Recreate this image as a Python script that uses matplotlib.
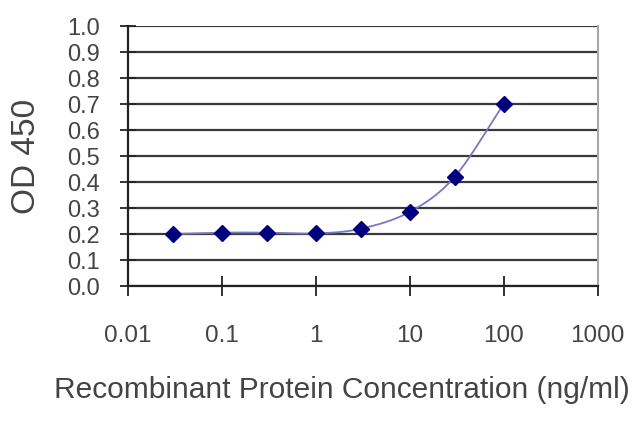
import numpy as np
import matplotlib
matplotlib.use('Agg')
import matplotlib.pyplot as plt

# concentration (ng/ml) and OD 450 readings
concentration = [0.03, 0.1, 0.3, 1, 3, 10, 30, 100]
od450 = [0.200, 0.205, 0.205, 0.202, 0.220, 0.285, 0.420, 0.700]
x_ticks = [0.01, 0.1, 1, 10, 100, 1000]
x_tick_labels = ['0.01', '0.1', '1', '10', '100', '1000']
y_ticks = [i / 10 for i in range(11)]


def smooth_line(xs, ys, steps=30):
    # catmull-rom through the points in log-x space, like the spreadsheet smoothing
    u = np.log10(xs)
    y = np.asarray(ys, dtype=float)
    pu = np.concatenate([[2 * u[0] - u[1]], u, [2 * u[-1] - u[-2]]])
    py = np.concatenate([[2 * y[0] - y[1]], y, [2 * y[-1] - y[-2]]])
    out_u, out_y = [], []
    t = np.linspace(0, 1, steps)
    for i in range(1, len(pu) - 2):
        for p, out in ((pu, out_u), (py, out_y)):
            p0, p1, p2, p3 = p[i - 1], p[i], p[i + 1], p[i + 2]
            seg = 0.5 * ((2 * p1) + (-p0 + p2) * t
                         + (2 * p0 - 5 * p1 + 4 * p2 - p3) * t ** 2
                         + (-p0 + 3 * p1 - 3 * p2 + p3) * t ** 3)
            out.extend(seg)
    return 10 ** np.array(out_u), np.array(out_y)


plt.rcParams['font.family'] = ['Liberation Sans', 'DejaVu Sans']
fig = plt.figure(figsize=(6.4, 4.27), dpi=100)
ax = fig.add_axes([0.2, 0.328, 0.734, 0.609])

for yv in y_ticks:
    ax.axhline(yv, color='#3a3a3a', lw=1.6, zorder=1)

lx, ly = smooth_line(concentration, od450)
ax.plot(lx, ly, color='#7777c4', lw=1.3, zorder=2)
ax.plot(concentration, od450, linestyle='none', marker='D', markersize=8,
        color='#00007f', zorder=3)

ax.set_xscale('log')
ax.set_xlim(0.01, 1000)
ax.set_ylim(0, 1.0)
ax.set_xticks(x_ticks)
ax.set_xticklabels(x_tick_labels)
ax.minorticks_off()
ax.set_yticks(y_ticks)
ax.set_yticklabels([f'{v:.1f}' for v in y_ticks])

ax.tick_params(axis='x', direction='inout', length=15, width=1.3,
               color='#222222', pad=20, labelsize=17.5, labelcolor='#444444')
ax.tick_params(axis='y', direction='inout', length=12, width=1.3,
               color='#222222', pad=14, labelsize=17, labelcolor='#444444')

for side in ['left', 'bottom']:
    ax.spines[side].set_color('#222222')
    ax.spines[side].set_linewidth(1.6)
ax.spines['top'].set_visible(False)
ax.spines['right'].set_color('#a8a8a8')
ax.spines['right'].set_linewidth(1.5)

ax.set_xlabel('Recombinant Protein Concentration (ng/ml)', fontsize=21.5,
              color='#444444', labelpad=21)
ax.xaxis.label.set_x(0.455)
ax.set_ylabel('OD 450', fontsize=24, color='#444444', labelpad=18)

fig.savefig('out.png', dpi=100)
